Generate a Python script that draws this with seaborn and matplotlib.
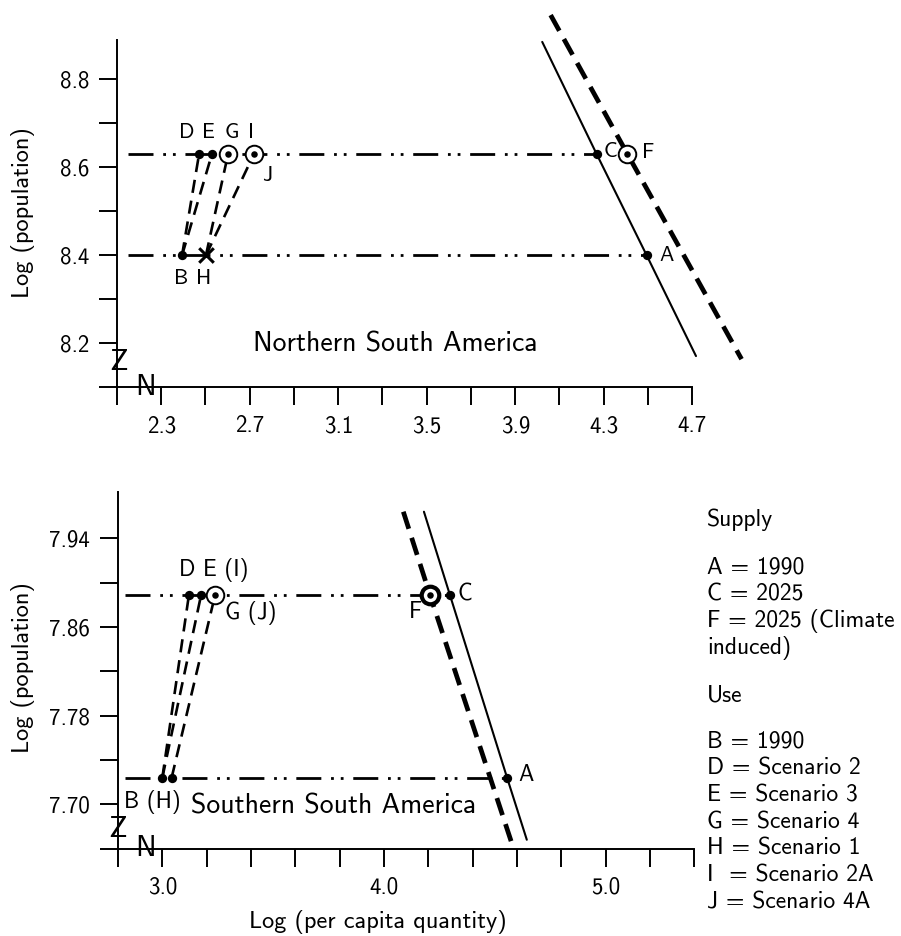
import matplotlib
matplotlib.use('Agg')
import matplotlib.pyplot as plt
import pandas as pd
import seaborn as sns

# ---- Northern South America ----
north_xticks = [2.3, 2.7, 3.1, 3.5, 3.9, 4.3, 4.7]
north_xticklabels = ['2.3', '2.7', '3.1', '3.5', '3.9', '4.3', '4.7']
north_xminor = [2.1, 2.5, 2.9, 3.3, 3.7, 4.1, 4.5]
north_yticks = [8.2, 8.4, 8.6, 8.8]
north_yticklabels = ['8.2', '8.4', '8.6', '8.8']
north_yminor = [8.1, 8.3, 8.5, 8.7]

north_names = ['A', 'B', 'C', 'D', 'E', 'F', 'G', 'H', 'I']
north_x = [4.494, 2.394, 4.268, 2.471, 2.529, 4.404, 2.602, 2.502, 2.719]
north_y = [8.40, 8.40, 8.63, 8.63, 8.63, 8.63, 8.63, 8.40, 8.63]
north_supply_x = [4.022, 4.268, 4.494, 4.717]
north_supply_y = [8.885, 8.63, 8.40, 8.171]
north_climate_x = [4.060, 4.404, 4.923]
north_climate_y = [8.946, 8.633, 8.164]
north_pop_start = 2.15
north_links = [('B', 'D'), ('B', 'E'), ('H', 'G'), ('H', 'I')]

# ---- Southern South America ----
south_xticks = [3.0, 4.0, 5.0]
south_xticklabels = ['3.0', '4.0', '5.0']
south_xminor = [2.8, 3.2, 3.4, 3.6, 3.8, 4.2, 4.4, 4.6, 4.8, 5.2, 5.4]
south_yticks = [7.70, 7.78, 7.86, 7.94]
south_yticklabels = ['7.70', '7.78', '7.86', '7.94']
south_yminor = [7.66, 7.74, 7.82, 7.90]

south_names = ['A', 'B', 'C', 'D', 'E', 'F', 'G', 'H']
south_x = [4.555, 3.0, 4.297, 3.12, 3.175, 4.207, 3.238, 3.042]
south_y = [7.724, 7.724, 7.889, 7.889, 7.889, 7.889, 7.889, 7.724]
south_supply_x = [4.180, 4.297, 4.555, 4.644]
south_supply_y = [7.964, 7.889, 7.724, 7.668]
south_climate_x = [4.087, 4.207, 4.576]
south_climate_y = [7.964, 7.889, 7.665]
south_pop_start = 2.83
south_links = [('B', 'D'), ('B', 'E'), ('H', 'G')]

legend_supply = ['A = 1990', 'C = 2025', 'F = 2025 (Climate', 'induced)']
legend_use = ['B = 1990', 'D = Scenario 2', 'E = Scenario 3', 'G = Scenario 4',
              'H = Scenario 1', 'I  = Scenario 2A', 'J = Scenario 4A']

sns.set_theme(style='ticks')
plt.rcParams['font.family'] = ['cmss10', 'DejaVu Sans']
plt.rcParams['axes.unicode_minus'] = False
plt.rcParams['axes.formatter.use_mathtext'] = False

W, H = 901, 936
fig = plt.figure(figsize=(W / 100, H / 100), dpi=100)


def box(left, top, right, bottom):
    return [left / W, 1 - bottom / H, (right - left) / W, (bottom - top) / H]


DASHDOT = (0, (9, 3.5, 1, 2.5, 1, 3.5))


def style_axes(ax, xt, xtl, xm, yt, ytl, ym, xb, yb):
    sns.despine(ax=ax)
    ax.set_xticks(xt, labels=xtl)
    ax.set_xticks(xm, minor=True)
    ax.set_yticks(yt, labels=ytl)
    ax.set_yticks(ym, minor=True)
    ax.spines['bottom'].set_bounds(*xb)
    ax.spines['left'].set_bounds(*yb)
    for s in ['bottom', 'left']:
        ax.spines[s].set_linewidth(1.4)
        ax.spines[s].set_color('black')
    ax.tick_params(which='both', direction='out', length=13, width=1.4,
                   color='black', labelsize=16.5, pad=7, labelcolor='black')
    ax.set_facecolor('white')
    ax.grid(False)


def draw_panel(ax, names, xs, ys, supply_x, supply_y, clim_x, clim_y,
               pop_start, links, styles):
    pts = dict(zip(names, zip(xs, ys)))
    # population levels (dash-dot-dot)
    levels = pd.DataFrame({
        'x': [pop_start, pts['C'][0], pop_start, pts['A'][0]],
        'y': [pts['C'][1], pts['C'][1], pts['A'][1], pts['A'][1]],
        'seg': [0, 0, 1, 1]})
    sns.lineplot(data=levels, x='x', y='y', units='seg', estimator=None,
                 sort=False, color='black', lw=2.0, linestyle=DASHDOT, ax=ax)
    # supply curves
    sns.lineplot(x=supply_x, y=supply_y, sort=False, color='black', lw=1.5,
                 estimator=None, ax=ax)
    sns.lineplot(x=clim_x, y=clim_y, sort=False, color='black', lw=3.4,
                 estimator=None, linestyle=(0, (3.8, 2.0)), ax=ax)
    # use paths
    rows = []
    for i, (a, b) in enumerate(links):
        rows.append({'x': pts[a][0], 'y': pts[a][1], 'seg': i})
        rows.append({'x': pts[b][0], 'y': pts[b][1], 'seg': i})
    sns.lineplot(data=pd.DataFrame(rows), x='x', y='y', units='seg',
                 estimator=None, sort=False, color='black', lw=1.9,
                 linestyle=(0, (5, 3)), ax=ax)
    # points
    dots = [n for n in names if styles.get(n, 'dot') == 'dot']
    rings = [n for n in names if styles.get(n) in ('ring', 'thick')]
    crosses = [n for n in names if styles.get(n) == 'cross']
    sns.scatterplot(x=[pts[n][0] for n in dots], y=[pts[n][1] for n in dots],
                    s=45, color='black', edgecolor='black', linewidth=0,
                    zorder=5, ax=ax)
    for n in rings:
        lw = 3.0 if styles[n] == 'thick' else 1.4
        sns.scatterplot(x=[pts[n][0]], y=[pts[n][1]], s=160, facecolor='white',
                        edgecolor='black', linewidth=lw, zorder=6, ax=ax)
        sns.scatterplot(x=[pts[n][0]], y=[pts[n][1]], s=22, color='black',
                        linewidth=0, zorder=7, ax=ax)
    if crosses:
        sns.scatterplot(x=[pts[n][0] for n in crosses],
                        y=[pts[n][1] for n in crosses], marker='x', s=110,
                        color='black', linewidth=2.2, zorder=6, ax=ax)
    return pts


def label(ax, pts, key, text, dx, dy, ha='center', size=15.5):
    ax.annotate(text, xy=pts[key], xytext=(dx, dy), textcoords='offset pixels',
                ha=ha, va='center', fontsize=size, color='black')


# ---------- top panel ----------
ax1 = fig.add_axes(box(117, 8.9, 758.6, 387.3))
ax1.set_xlim(2.1, 5.0)
ax1.set_ylim(8.1, 8.96)
p = draw_panel(ax1, north_names, north_x, north_y, north_supply_x, north_supply_y,
               north_climate_x, north_climate_y, north_pop_start, north_links,
               {'F': 'ring', 'G': 'ring', 'I': 'ring', 'H': 'cross'})
style_axes(ax1, north_xticks, north_xticklabels, north_xminor,
           north_yticks, north_yticklabels, north_yminor, (2.1, 4.7), (8.1, 8.89))
label(ax1, p, 'D', 'D', -12, 22)
label(ax1, p, 'E', 'E', -3, 22)
label(ax1, p, 'G', 'G', 4, 22)
label(ax1, p, 'I', 'I', -3, 22)
label(ax1, p, 'I', 'J', 13, -21)
label(ax1, p, 'B', 'B', -1, -23)
label(ax1, p, 'H', 'H', -2, -23)
label(ax1, p, 'C', 'C', 14, 3)
label(ax1, p, 'F', 'F', 21, 2)
label(ax1, p, 'A', 'A', 20, 0)
ax1.text(3.36, 8.198, 'Northern South America', ha='center', va='center',
         fontsize=20, color='black')
ax1.set_xlabel('')
ax1.set_ylabel('Log (population)', fontsize=17.5, color='black')
ax1.yaxis.set_label_coords(-0.128, 0.461)
# axis break marks
ax1.text(2.109, 8.157, 'Z', ha='center', va='center', fontsize=22, color='black')
ax1.text(2.23, 8.1, 'N', ha='center', va='center', fontsize=21, color='black')

# ---------- bottom panel ----------
ax2 = fig.add_axes(box(118, 482.9, 694.4, 848.6))
ax2.set_xlim(2.8, 5.4)
ax2.set_ylim(7.66, 7.99)
q = draw_panel(ax2, south_names, south_x, south_y, south_supply_x, south_supply_y,
               south_climate_x, south_climate_y, south_pop_start, south_links,
               {'F': 'thick', 'G': 'ring'})
style_axes(ax2, south_xticks, south_xticklabels, south_xminor,
           south_yticks, south_yticklabels, south_yminor, (2.8, 5.4), (7.66, 7.982))
label(ax2, q, 'D', 'D', -2, 25, size=16.5)
label(ax2, q, 'E', 'E (I)', 2, 25, ha='left', size=16.5)
label(ax2, q, 'G', 'G (J)', 10, -18, ha='left', size=16.5)
label(ax2, q, 'F', 'F', -15, -17, size=16.5)
label(ax2, q, 'C', 'C', 15, 0, size=16.5)
label(ax2, q, 'A', 'A', 19, 3, size=16.5)
label(ax2, q, 'B', 'B (H)', -10, -24, size=16.5)
ax2.text(3.774, 7.698, 'Southern South America', ha='center', va='center',
         fontsize=20, color='black')
ax2.set_xlabel('Log (per capita quantity)', fontsize=17.5, color='black')
ax2.xaxis.set_label_coords((378 - 118) / 576.4, -0.168)
ax2.set_ylabel('Log (population)', fontsize=17.5, color='black')
ax2.yaxis.set_label_coords(-0.144, 0.494)
ax2.text(2.80, 7.677, 'Z', ha='center', va='center', fontsize=22, color='black')
ax2.text(2.925, 7.66, 'N', ha='center', va='center', fontsize=21, color='black')

# ---------- legend text ----------
lx = 707 / W
fs = 17
fig.text(lx, 1 - 520 / H, 'Supply', fontsize=fs, va='center', color='black')
for i, t in enumerate(legend_supply):
    fig.text(lx, 1 - (568 + i * 26.7) / H, t, fontsize=fs, va='center', color='black')
fig.text(lx, 1 - 695 / H, 'Use', fontsize=fs, va='center', color='black')
for i, t in enumerate(legend_use):
    fig.text(lx, 1 - (742 + i * 26.7) / H, t, fontsize=fs, va='center', color='black')

fig.savefig('out.png', dpi=100, facecolor='white')
